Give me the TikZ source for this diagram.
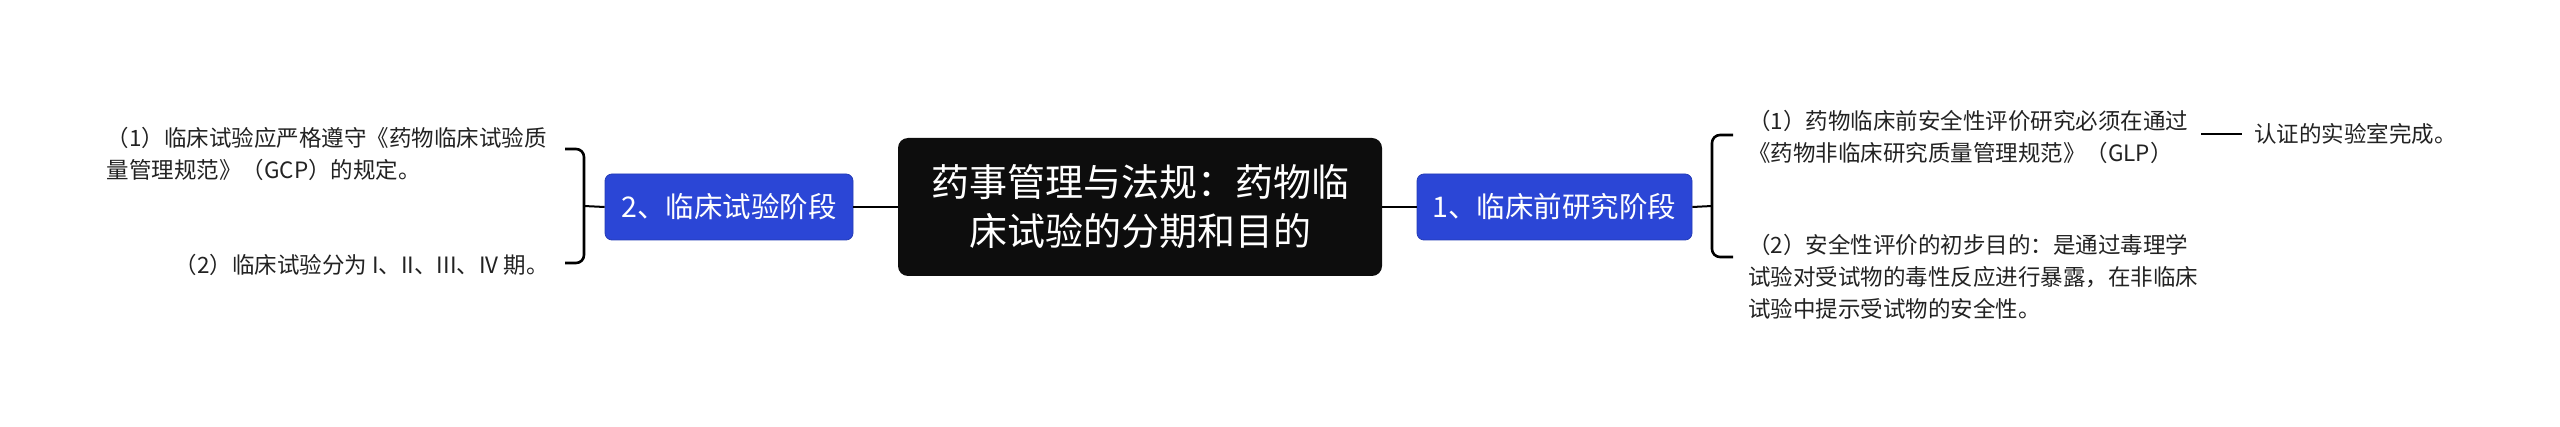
\documentclass[tikz,border=0pt]{standalone}
\usepackage{fontspec}
\setmainfont{Noto Sans CJK SC}
\usetikzlibrary{positioning}

\definecolor{stageblue}{HTML}{2B46D6}
\definecolor{leaftext}{HTML}{222222}

\begin{document}
\begin{tikzpicture}[x=1pt,y=-1pt]
        \tikzstyle{every node}=[inner sep=0pt]
        \tikzstyle{stagebox}=[draw=stageblue!85!black,line width=0.8pt,fill=stageblue,text=white,rounded corners=7pt,minimum height=66pt,font=\fontsize{28.5}{34}\selectfont]
        \tikzstyle{leaf}=[align=left,text=leaftext,font=\fontsize{22.5}{32}\selectfont]
        \tikzstyle{link}=[line width=2pt]
        \tikzstyle{bracket}=[line width=2.6pt,rounded corners=8pt]
        \useasboundingbox (0,0) rectangle (2560,427);

        % root topic
        \node[fill=black!95,text=white,rounded corners=10pt,minimum width=484pt,minimum height=138pt,align=center,font=\fontsize{38}{49}\selectfont] (root) at (1140,207) {药事管理与法规：药物临\\床试验的分期和目的};

        % clinical trial stage
        \node[stagebox,minimum width=248pt,left of=root,node distance=411pt] (clinical) {2、临床试验阶段};
        \draw[link] (root.west) -- (clinical.east);

        % preclinical stage
        \node[stagebox,minimum width=275pt,right of=root,node distance=414.5pt] (preclinical) {1、临床前研究阶段};
        \draw[link] (root.east) -- (preclinical.west);

        % clinical details
        \node[leaf,anchor=east] (gcp) at (547,154) {（1）临床试验应严格遵守《药物临床试验质\\量管理规范》（GCP）的规定。};
        \node[leaf,anchor=east] (phases) at (549,265) {（2）临床试验分为 I、II、III、IV 期。};
        \coordinate (lbtop) at (565,149);
        \coordinate (lbbot) at (565,263);
        \coordinate (lbmid) at (584,206);
        \draw[bracket] (lbtop) -- (584,149) -- (584,263) -- (lbbot);
        \draw[link] (lbmid) -- (clinical.west);

        % preclinical details
        \node[leaf,anchor=west] (glp) at (1748,137) {（1）药物临床前安全性评价研究必须在通过\\《药物非临床研究质量管理规范》（GLP）};
        \node[leaf,anchor=west] (purpose) at (1748,277) {（2）安全性评价的初步目的：是通过毒理学\\试验对受试物的毒性反应进行暴露，在非临床\\试验中提示受试物的安全性。};
        \coordinate (rbtop) at (1733,135);
        \coordinate (rbbot) at (1733,257);
        \coordinate (rbmid) at (1712,206);
        \draw[bracket] (rbtop) -- (1712,135) -- (1712,257) -- (rbbot);
        \draw[link] (preclinical.east) -- (rbmid);

        % certified lab
        \node[leaf,anchor=west] (lab) at (2254,134) {认证的实验室完成。};
        \coordinate (glpend) at (2201,134);
        \draw[line width=2.6pt] (glpend) -- ([xshift=-12pt]lab.west);

\end{tikzpicture}
\end{document}
